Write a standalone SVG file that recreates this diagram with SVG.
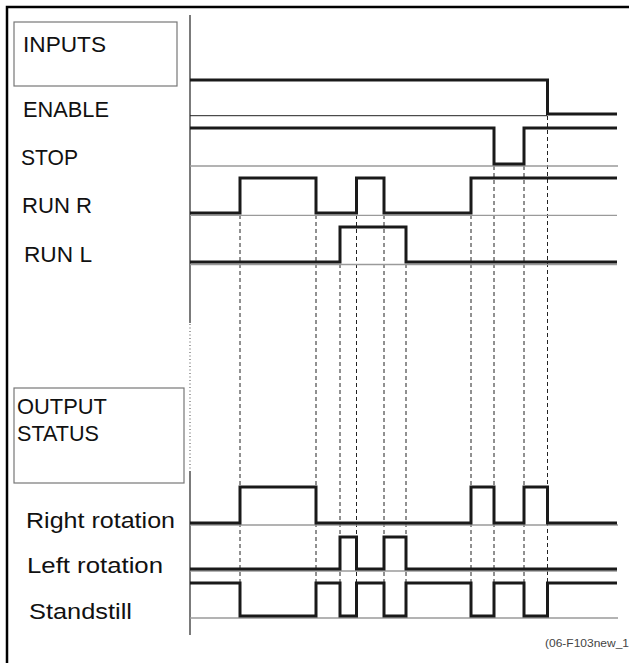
<svg xmlns="http://www.w3.org/2000/svg" width="629" height="663" viewBox="0 0 629 663">
<style>
.lbl{font-family:"Liberation Sans",Arial,sans-serif;font-size:22px;fill:#111}
.box{fill:#fff;stroke:#777;stroke-width:1.2}
.sig{fill:none;stroke:#1a1a1a;stroke-width:3;stroke-linejoin:miter;stroke-linecap:butt}
.base{fill:none;stroke:#9a9a9a;stroke-width:1.3}
.dash{fill:none;stroke:#222;stroke-width:1;stroke-dasharray:4 3}
.axis{fill:none;stroke:#333;stroke-width:1.3}
.note{font-family:"Liberation Sans",Arial,sans-serif;font-size:11.5px;fill:#444}
</style>
<rect width="629" height="663" fill="#fff"/>
<path d="M7,663 V7 H629" fill="none" stroke="#000" stroke-width="2.5"/>

<g id="axis">
<line class="axis" x1="190" y1="15" x2="190" y2="323"/>
<line x1="190" y1="324" x2="190" y2="471" stroke="#666" stroke-width="1.2" stroke-dasharray="1 2.5"/>
<line class="axis" x1="190" y1="471" x2="190" y2="635"/>
</g>

<g id="inputs-box">
<rect class="box" x="14" y="22" width="163" height="64"/>
<text class="lbl" x="23" y="52" textLength="83" lengthAdjust="spacingAndGlyphs">INPUTS</text>
</g>

<g id="output-box">
<rect class="box" x="14" y="388" width="170" height="95"/>
<text class="lbl" x="17" y="414" textLength="90" lengthAdjust="spacingAndGlyphs">OUTPUT</text>
<text class="lbl" x="17" y="441" textLength="82" lengthAdjust="spacingAndGlyphs">STATUS</text>
</g>

<g id="connectors">
<line class="dash" x1="240" y1="215" x2="240" y2="583"/>
<line class="dash" x1="316" y1="215" x2="316" y2="583"/>
<line class="dash" x1="340" y1="264" x2="340" y2="583"/>
<line class="dash" x1="356.5" y1="215" x2="356.5" y2="583"/>
<line class="dash" x1="384" y1="215" x2="384" y2="583"/>
<line class="dash" x1="406" y1="264" x2="406" y2="583"/>
<line class="dash" x1="471" y1="215" x2="471" y2="583"/>
<line class="dash" x1="494" y1="166" x2="494" y2="583"/>
<line class="dash" x1="524" y1="166" x2="524" y2="583"/>
<line class="dash" x1="547.5" y1="116" x2="547.5" y2="583"/>
</g>

<g id="enable">
<text class="lbl" x="23" y="117" textLength="86" lengthAdjust="spacingAndGlyphs">ENABLE</text>
<line x1="190" y1="115.7" x2="547" y2="115.7" stroke="#222" stroke-width="1"/>
<path class="sig" d="M190,80 H547.5 V114 H617"/>
</g>

<g id="stop">
<text class="lbl" x="21" y="165" textLength="57" lengthAdjust="spacingAndGlyphs">STOP</text>
<line class="base" x1="190" y1="166" x2="618" y2="166"/>
<path class="sig" d="M190,128 H494 V164 H524 V128 H617"/>
</g>

<g id="run-r">
<text class="lbl" x="22" y="213" textLength="70" lengthAdjust="spacingAndGlyphs">RUN R</text>
<line class="base" x1="190" y1="215.3" x2="617" y2="215.3"/>
<path class="sig" d="M190,213 H240 V178 H316 V213 H356.5 V178 H384 V213 H471 V178 H617"/>
</g>

<g id="run-l">
<text class="lbl" x="24" y="262" textLength="68" lengthAdjust="spacingAndGlyphs">RUN L</text>
<line class="base" x1="190" y1="264.5" x2="617" y2="264.5"/>
<path class="sig" d="M190,262 H340 V227 H406 V262 H617"/>
</g>

<g id="right-rotation">
<text class="lbl" x="26" y="528" textLength="149" lengthAdjust="spacingAndGlyphs">Right rotation</text>
<line class="base" x1="190" y1="525" x2="618" y2="525"/>
<path class="sig" d="M190,523 H240 V487 H316 V523 H471 V487 H494 V523 H524 V487 H547.5 V523 H617"/>
</g>

<g id="left-rotation">
<text class="lbl" x="27" y="573" textLength="136" lengthAdjust="spacingAndGlyphs">Left rotation</text>
<line class="base" x1="190" y1="571" x2="617" y2="571"/>
<path class="sig" d="M190,569 H340 V537 H356.5 V569 H384 V537 H406 V569 H617"/>
</g>

<g id="standstill">
<text class="lbl" x="29" y="619" textLength="103" lengthAdjust="spacingAndGlyphs">Standstill</text>
<line class="base" x1="190" y1="618" x2="618" y2="618"/>
<path class="sig" d="M190,583 H240 V616 H316 V583 H340 V616 H356.5 V583 H384 V616 H406 V583 H471 V616 H494 V583 H524 V616 H547.5 V583 H617"/>
</g>

<text class="note" x="545" y="647" textLength="84" lengthAdjust="spacingAndGlyphs">(06-F103new_1</text>
</svg>
